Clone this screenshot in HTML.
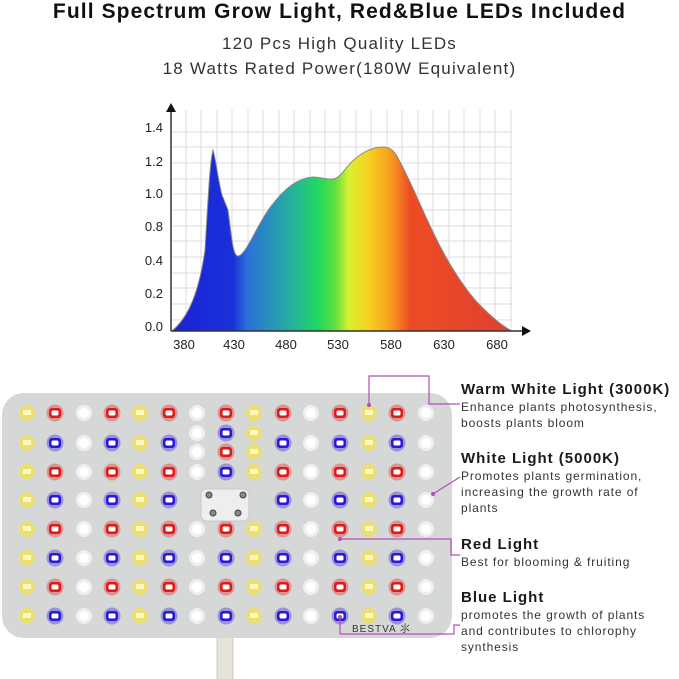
<!DOCTYPE html><html><head><meta charset="utf-8"><style>
body{margin:0;width:679px;height:679px;background:#fff;position:relative;overflow:hidden;font-family:"Liberation Sans","DejaVu Sans",sans-serif;color:#222}
.t{position:absolute;white-space:nowrap}
.led{position:absolute}
.h{font-size:15px;font-weight:bold;letter-spacing:1px;color:#1a1a1a}
.d{font-size:12px;letter-spacing:0.9px;color:#333}
</style></head><body>
<div class="t" style="left:0;width:679px;top:0;text-align:center;font-size:21px;font-weight:bold;letter-spacing:1.1px;color:#111">Full Spectrum Grow Light, Red&amp;Blue LEDs Included</div>
<div class="t" style="left:0;width:679px;top:34px;text-align:center;font-size:17px;letter-spacing:1.2px;color:#333">120 Pcs High Quality LEDs</div>
<div class="t" style="left:0;width:679px;top:59px;text-align:center;font-size:17px;letter-spacing:1.2px;color:#333">18 Watts Rated Power(180W Equivalent)</div>
<svg width="679" height="679" style="position:absolute;left:0;top:0">
<defs><linearGradient id="sp" x1="172" x2="512" y1="0" y2="0" gradientUnits="userSpaceOnUse">
<stop offset="0" stop-color="#1a22d8"/><stop offset="0.18" stop-color="#1a30d8"/><stop offset="0.22" stop-color="#2a70d8"/><stop offset="0.35" stop-color="#25b0a0"/><stop offset="0.43" stop-color="#20d860"/><stop offset="0.48" stop-color="#60e040"/><stop offset="0.52" stop-color="#d8f030"/><stop offset="0.58" stop-color="#f8d020"/><stop offset="0.64" stop-color="#f8a020"/><stop offset="0.7" stop-color="#ec4c24"/><stop offset="1" stop-color="#e04030"/></linearGradient></defs>
<g stroke="#ddd" stroke-width="1">
<path d="M171 132H512M171 147H512M171 163H512M171 179H512M171 194H512M171 210H512M171 226H512M171 241H512M171 257H512M171 273H512M171 288H512M171 304H512M171 320H512"/>
<path d="M186 110V331M201 110V331M217 110V331M232 110V331M248 110V331M263 110V331M279 110V331M294 110V331M310 110V331M325 110V331M340 110V331M356 110V331M371 110V331M387 110V331M402 110V331M418 110V331M433 110V331M449 110V331M464 110V331M480 110V331M495 110V331M511 110V331"/></g>
<path d="M172 331C185 320 198 300 205 250C208 200 210 160 213 150C216 160 218 180 222 195L228 210C232 240 233 256 238 256C246 256 258 222 272 205C285 188 298 178 313 177C322 177 326 180 333 179C342 178 345 165 360 155C370 148 378 147 384 147C392 148 395 152 399 160C410 180 420 205 432 230C446 260 460 282 475 300C490 316 502 326 512 331Z" fill="url(#sp)" stroke="#888" stroke-width="1"/>
<path d="M171 331V108" stroke="#333" stroke-width="1.5"/><path d="M166 112L171 103L176 112Z" fill="#111"/>
<path d="M171 331H523" stroke="#333" stroke-width="1.5"/><path d="M522 326L531 331L522 336Z" fill="#111"/>
<g font-size="13" fill="#222" font-family="Liberation Sans,sans-serif">
<text x="163" y="132" text-anchor="end">1.4</text><text x="163" y="166" text-anchor="end">1.2</text><text x="163" y="198" text-anchor="end">1.0</text><text x="163" y="231" text-anchor="end">0.8</text><text x="163" y="265" text-anchor="end">0.4</text><text x="163" y="298" text-anchor="end">0.2</text><text x="163" y="331" text-anchor="end">0.0</text>
<g text-anchor="middle"><text x="184" y="349">380</text><text x="234" y="349">430</text><text x="286" y="349">480</text><text x="338" y="349">530</text><text x="391" y="349">580</text><text x="444" y="349">630</text><text x="497" y="349">680</text></g></g>
<rect x="217" y="636" width="16" height="50" fill="#e6e4d8" stroke="#cfcdc0"/>
<rect x="2" y="393" width="450" height="245" rx="22" fill="#d6d8d8"/>
<g id="leds"></g>
<rect x="201" y="489" width="48" height="32" rx="5" fill="#eeeeee" stroke="#c8c8c8"/>
<g fill="#888" stroke="#444" stroke-width="1"><circle cx="209" cy="495" r="3"/><circle cx="243" cy="495" r="3"/><circle cx="213" cy="513" r="3"/><circle cx="238" cy="513" r="3"/></g>
<text x="352" y="632" font-size="10" fill="#333" letter-spacing="1">BESTVA ⺢</text>
<g stroke="#b050b8" stroke-width="1.2" fill="none">
<path d="M369 405V376H429V404H460"/><path d="M433 494L460 477"/><path d="M340 539H451V555H460"/><path d="M340 617V634H454V625H460"/></g>
<g fill="#b050b8"><circle cx="369" cy="405" r="2"/><circle cx="433" cy="494" r="2"/><circle cx="340" cy="539" r="2"/><circle cx="340" cy="617" r="2"/></g>
</svg>
<div class="t h" style="left:461px;top:381px">Warm White Light (3000K)</div>
<div class="t d" style="left:461px;top:400px">Enhance plants photosynthesis,</div>
<div class="t d" style="left:461px;top:416px">boosts plants bloom</div>
<div class="t h" style="left:461px;top:450px">White Light (5000K)</div>
<div class="t d" style="left:461px;top:469px">Promotes plants germination,</div>
<div class="t d" style="left:461px;top:485px">increasing the growth rate of</div>
<div class="t d" style="left:461px;top:501px">plants</div>
<div class="t h" style="left:461px;top:536px">Red Light</div>
<div class="t d" style="left:461px;top:555px">Best for blooming &amp; fruiting</div>
<div class="t h" style="left:461px;top:589px">Blue Light</div>
<div class="t d" style="left:461px;top:608px">promotes the growth of plants</div>
<div class="t d" style="left:461px;top:624px">and contributes to chlorophy</div>
<div class="t d" style="left:461px;top:640px">synthesis</div>
<script>
var xs=[27,55,84,112,140,169,197,226,254,283,311,340,369,397,426],ys=[413,443,472,500,529,558,587,616];
var g=document.getElementById('leds'),s='';
function led(x,y,c){
 if(c=='W'){s+='<circle cx="'+x+'" cy="'+y+'" r="8" fill="#fff" opacity="0.6"/><circle cx="'+x+'" cy="'+y+'" r="5" fill="#fff"/>';return;}
 if(c=='Y'){s+='<circle cx="'+x+'" cy="'+y+'" r="8" fill="#f4e24a" opacity="0.7"/><rect x="'+(x-4)+'" y="'+(y-3)+'" width="8" height="5" fill="#fff9c0"/>';return;}
 var col=c=='R'?'#e01818':'#2a18d8';
 s+='<circle cx="'+x+'" cy="'+y+'" r="8.5" fill="'+col+'" opacity="0.35"/><rect x="'+(x-6)+'" y="'+(y-5)+'" width="12" height="10" rx="3" fill="'+col+'"/><rect x="'+(x-3.5)+'" y="'+(y-2.5)+'" width="7" height="5" rx="1.5" fill="#fff"/>';
}
for(var r=0;r<8;r++)for(var i=0;i<15;i++){
 var t=i%2==0?(i%4==0?(i==0||i==4||i==8||i==12?'Y':'W'):'W'):(r%2==0?'R':'B');
 if(i==0||i==4||i==8||i==12)t='Y';else if(i==2||i==6||i==10||i==14)t='W';
 if(i>=6&&i<=8&&r<=3)continue;
 led(xs[i],ys[r],t);
}
led(197,413,'W');led(197,433,'W');led(197,452,'W');led(197,472,'W');
led(226,413,'R');led(226,433,'B');led(226,452,'R');led(226,472,'B');
led(254,413,'Y');led(254,433,'Y');led(254,452,'Y');led(254,472,'Y');
g.innerHTML=s;
</script>
</body></html>
